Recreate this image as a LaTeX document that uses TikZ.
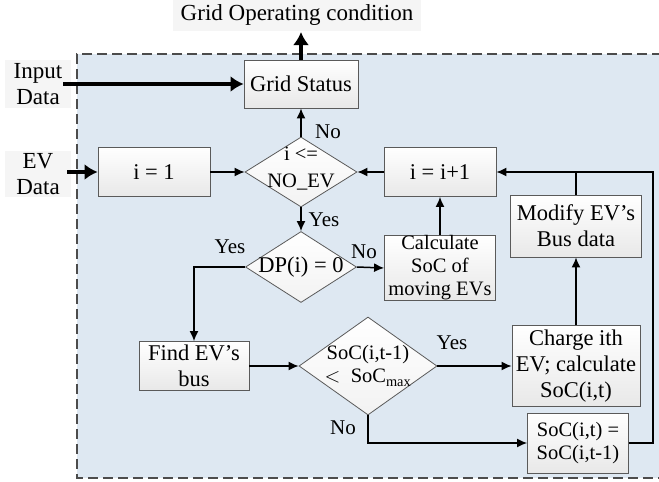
\documentclass[tikz,border=0pt]{standalone}
\usepackage{fontspec}
\setmainfont{Liberation Serif}
\usetikzlibrary{arrows.meta,shapes.geometric}
\definecolor{bgblue}{RGB}{222,232,242}
\definecolor{boxline}{RGB}{90,90,90}
\tikzset{
  box/.style={draw=boxline, line width=0.8pt, top color=white, bottom color=black!9,
    inner sep=0pt, align=center, font=\fontsize{22.5}{26}\selectfont},
  smallbox/.style={box, font=\fontsize{20.5}{23}\selectfont},
  dia/.style={draw=boxline, line width=0.8pt, diamond, top color=white, bottom color=black!5,
    inner sep=0pt},
  dtext/.style={align=center, inner sep=0pt, font=\fontsize{20.5}{27}\selectfont},
  lab/.style={inner sep=0pt, font=\fontsize{21}{24}\selectfont},
  ext/.style={align=center, inner sep=2pt, fill=black!4, font=\fontsize{23}{26}\selectfont},
  arr/.style={line width=1.5pt, -{Latex[length=10pt,width=9pt]}},
  ln/.style={line width=1.5pt},
  thick arr/.style={line width=4pt, -{Latex[length=13pt,width=16pt]}}
}
\begin{document}
\begin{tikzpicture}[x=1pt,y=-1pt]
\useasboundingbox (0,0) rectangle (659,482);
% background region
\fill[bgblue] (77,54) rectangle (662,478);
\draw[line width=1.5pt, draw=black!70, dash pattern=on 10pt off 5pt] (662,54) -- (77,54) -- (77,478) -- (662,478);

% external texts
\node[ext, minimum width=248pt, minimum height=32pt] (title) at (297,15) {Grid Operating condition};
\node[ext, minimum width=66pt, minimum height=48pt] (inlab) at (38,84) {Input\\Data};
\node[ext, minimum width=66pt, minimum height=46pt] (evlab) at (38,174) {EV\\Data};
\coordinate (titlebase) at (301,32);
\coordinate (inStart) at (63,84);
\coordinate (evStart) at (67,172);

% boxes
\node[box, minimum width=114pt, minimum height=48pt] (gs) at (301,84) {Grid Status};
\node[box, minimum width=112pt, minimum height=49pt] (i1) at (154,172) {i = 1};
\node[box, minimum width=112pt, minimum height=49pt] (ii) at (440,172) {i = i+1};
\node[smallbox, minimum width=111pt, minimum height=64pt] (calc) at (440,268) {Calculate\\SoC of\\moving EVs};
\node[box, minimum width=131pt, minimum height=62pt] (mod) at (576,226) {Modify EV’s\\Bus data};
\node[box, minimum width=110pt, minimum height=49pt] (find) at (194,366) {Find EV’s\\bus};
\node[box, minimum width=128pt, minimum height=81pt] (charge) at (576,366) {Charge ith\\EV; calculate\\SoC(i,t)};
\node[smallbox, minimum width=101pt, minimum height=60pt] (soc) at (578,443) {SoC(i,t) =\\SoC(i,t-1)};

% diamonds
\node[dia, minimum width=112pt, minimum height=70pt] (d1) at (301,172) {};
\node[dtext] (d1t) at (301,169) {i <=\\NO\_EV};
\node[dia, minimum width=111pt, minimum height=71pt] (d2) at (301,267) {};
\node[dtext, font=\fontsize{22.5}{26}\selectfont] (d2t) at (301,267) {DP(i) = 0};
\node[dia, minimum width=138pt, minimum height=98pt] (d3) at (368,366) {};
\node[dtext, font=\fontsize{20.5}{23}\selectfont] (d3t) at (368,366) {SoC(i,t-1)\\$<$\ \ SoC\textsubscript{max}};

\coordinate (rt) at (653,172);
\coordinate (rb) at (653,443);

% thick arrows
\draw[thick arr] (inStart) -- (gs.west);
\draw[thick arr] (evStart) -- (i1.west);
\draw[thick arr] (gs.north) -- (titlebase);

% connectors
\draw[arr] (i1.east) -- (d1.west);
\draw[arr] (d1.north) -- (gs.south);
\draw[arr] (ii.west) -- (d1.east);
\draw[arr] (d1.south) -- (d2.north);
\draw[arr] (d2.east) -- (calc.west);
\draw[arr] (d2.west) -| (find.north);
\draw[arr] (calc.north) -- (ii.south);
\draw[arr] (find.east) -- (d3.west);
\draw[arr] (d3.east) -- (charge.west);
\draw[arr] (charge.north) -- (mod.south);
\draw[ln] (mod.north) -- (mod.north |- rt);
\draw[arr] (d3.south) |- (soc.west);
\draw[arr] (soc.east) -- (rb) -- (rt) -- (ii.east);

% labels
\node[lab] (lno1) at (328,132) {No};
\node[lab] (lyes1) at (324,220) {Yes};
\node[lab] (lyes2) at (230,247) {Yes};
\node[lab] (lno2) at (364,252) {No};
\node[lab] (lyes3) at (452,343) {Yes};
\node[lab] (lno3) at (343,428) {No};
\end{tikzpicture}
\end{document}
